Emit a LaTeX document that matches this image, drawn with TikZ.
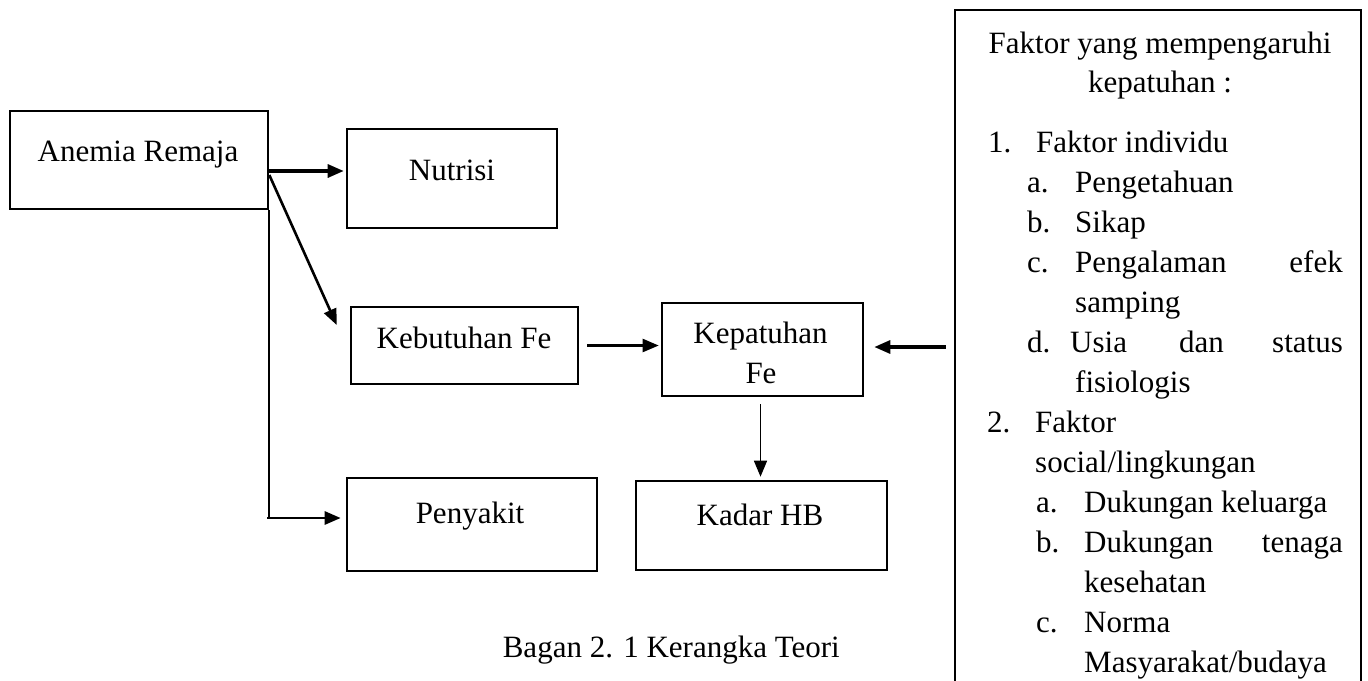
\documentclass[tikz,border=0pt]{standalone}
\usepackage{fontspec}
\setmainfont{Liberation Serif}
\usetikzlibrary{arrows.meta}
\begin{document}
\begin{tikzpicture}[x=1pt,y=-1pt,
  box/.style={draw, line width=2.6pt, inner sep=0pt},
  txt/.style={inner sep=0pt, font=\fontsize{31}{40}\selectfont},
  ctxt/.style={txt, anchor=base},
  ltxt/.style={txt, anchor=base west},
  etxt/.style={txt, anchor=base east},
  tip/.style={-{Triangle[length=16pt,width=13pt]}},
]
\useasboundingbox (0,0) rectangle (1368,680);
\clip (0,0) rectangle (1368,680);

% boxes
\node[box, minimum width=258pt, minimum height=98pt] (anemia) at (139,160) {};
\node[box, minimum width=210pt, minimum height=99pt] (nutrisi) at (452,178.5) {};
\node[box, minimum width=227pt, minimum height=77pt] (kebutuhan) at (464.5,345.5) {};
\node[box, minimum width=201pt, minimum height=93pt] (kepatuhan) at (762.5,349.5) {};
\node[box, minimum width=250pt, minimum height=93pt] (penyakit) at (472,524.5) {};
\node[box, minimum width=251pt, minimum height=89pt] (kadar) at (761.5,525.5) {};
\node[box, line width=2.4pt, minimum width=406pt, minimum height=690pt] (faktor) at (1158,355) {};

% box texts
\node[ctxt] (tAnemia) at (138,161) {Anemia Remaja};
\node[ctxt] (tNutrisi) at (452,180) {Nutrisi};
\node[ctxt] (tKebutuhan) at (464,348) {Kebutuhan Fe};
\node[ctxt] (tKepatuhan1) at (760.5,343) {Kepatuhan};
\node[ctxt] (tKepatuhan2) at (761,383) {Fe};
\node[ctxt] (tPenyakit) at (470,523) {Penyakit};
\node[ctxt] (tKadar) at (760,525) {Kadar HB};
\node[etxt] (caption) at (840,657) {Bagan 2. 1 Kerangka Teori};

% factor box texts
\node[ctxt] (h1) at (1160,53) {Faktor yang mempengaruhi};
\node[ctxt] (h2) at (1160,92) {kepatuhan :};
\node[ltxt] (n1) at (988,152) {1.};
\node[ltxt] (n1t) at (1036,152) {Faktor individu};
\node[ltxt] (a1) at (1027,192) {a.};
\node[ltxt] (a1t) at (1075,192) {Pengetahuan};
\node[ltxt] (b1) at (1027,232) {b.};
\node[ltxt] (b1t) at (1075,232) {Sikap};
\node[ltxt] (c1) at (1027,272) {c.};
\node[ltxt] (c1t) at (1075,272) {Pengalaman};
\node[etxt] (c1e) at (1343,272) {efek};
\node[ltxt] (c1s) at (1075,312) {samping};
\node[ltxt] (d1) at (1027,352) {d.};
\node[ltxt] (d1t) at (1070,352) {Usia};
\node[ltxt] (d1m) at (1179,352) {dan};
\node[etxt] (d1e) at (1343,352) {status};
\node[ltxt] (d1s) at (1075,392) {fisiologis};
\node[ltxt] (n2) at (987,432) {2.};
\node[ltxt] (n2t) at (1035,432) {Faktor};
\node[ltxt] (n2s) at (1035,472) {social/lingkungan};
\node[ltxt] (a2) at (1036,512) {a.};
\node[ltxt] (a2t) at (1084,512) {Dukungan keluarga};
\node[ltxt] (b2) at (1036,552) {b.};
\node[ltxt] (b2t) at (1084,552) {Dukungan};
\node[etxt] (b2e) at (1343,552) {tenaga};
\node[ltxt] (b2s) at (1084,592) {kesehatan};
\node[ltxt] (c2) at (1036,632) {c.};
\node[ltxt] (c2t) at (1084,632) {Norma};
\node[ltxt] (c2s) at (1084,672) {Masyarakat/budaya};

% connectors
\draw[tip, line width=3.2pt] ([yshift=-11pt]anemia.east) -- ([yshift=-11pt,xshift=-2pt]anemia.east -| nutrisi.west);
\draw[tip, line width=2.6pt] ([yshift=-15pt]anemia.east) -- ([xshift=-13pt,yshift=20.5pt]kebutuhan.west);
\draw[tip, line width=2.2pt] ([xshift=8pt]kebutuhan.east) -- ([xshift=-2pt]kepatuhan.west |- kebutuhan.east);
\draw[tip, line width=3.2pt] ([xshift=-8pt,yshift=2.5pt]faktor.west |- kepatuhan.east) -- ([xshift=10pt,yshift=2.5pt]kepatuhan.east);
\draw[tip, line width=1.5pt] ([xshift=-2pt,yshift=-7pt]kepatuhan.south) -- ([xshift=-2pt,yshift=3pt]kepatuhan.south |- kadar.north);
\coordinate (bend) at (269,518);
\draw[line width=1.2pt] (anemia.south east -| bend) -- (bend);
\draw[tip, line width=2.8pt] ([xshift=-2pt]bend) -- ([xshift=-5pt]penyakit.west |- bend);
\end{tikzpicture}
\end{document}
